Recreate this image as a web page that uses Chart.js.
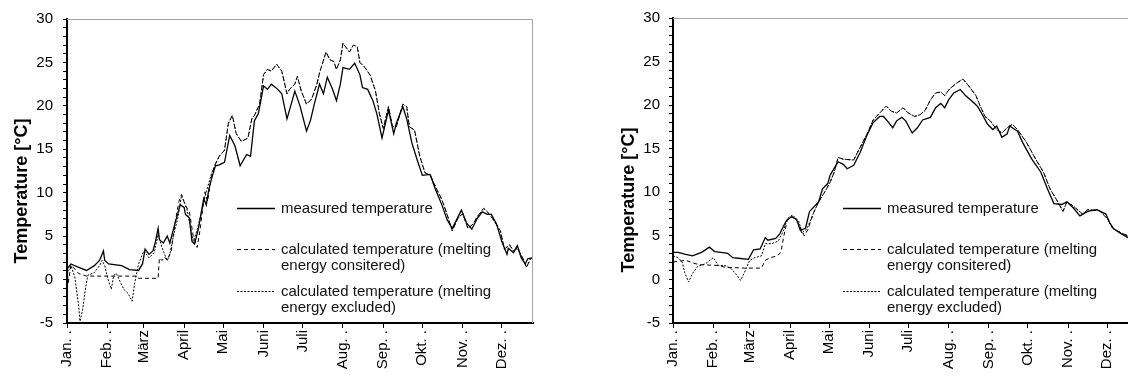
<!DOCTYPE html>
<html>
<head>
<meta charset="utf-8">
<script src="https://cdn.jsdelivr.net/npm/chart.js@4.4.1/dist/chart.umd.min.js"></script>
<style>
  html, body { margin: 0; padding: 0; background: #fff; }
  #wrap { width: 1128px; height: 378px; display: flex; }
  canvas { display: block; }
</style>
</head>
<body>
<div id="wrap">
  <canvas id="c1" width="564" height="378"></canvas>
  <canvas id="c2" width="564" height="378"></canvas>
</div>
<script>
// ---------- axis / legend text ----------
const monthStarts = [0, 31, 59, 90, 120, 151, 181, 212, 243, 273, 304, 334];
const monthLabels = ['Jan. .', 'Feb. .', 'März', 'April', 'Mai', 'Juni', 'Juli', 'Aug. .', 'Sep. .', 'Okt. .', 'Nov. .', 'Dez. .'];
const yTitle = 'Temperature [°C]';
const legendMeasured = ['measured temperature'];
const legendConsidered = ['calculated temperature (melting', 'energy consitered)'];
const legendExcluded = ['calculated temperature (melting', 'energy excluded)'];

// ---------- left panel data: [day of year, °C] ----------
const leftMeasured = [
  [0,1.2],[3,1.8],[9,1.4],[15,1.05],[21,1.6],[25,2.2],[28,3.3],[29,2.2],[32,1.8],[42,1.6],[48,1.15],[55,1.05],
  [58,1.8],[60,3.5],[63,2.9],[66,3.3],[68,4.4],[70,5.9],[71,4.6],[74,4.2],[77,5.0],[79,4.2],[83,6.5],[87,8.6],
  [90,8.3],[91,7.5],[94,7.1],[96,4.4],[98,4.1],[101,5.9],[105,9.3],[107,8.6],[109,10.4],[111,11.6],[114,13.1],
  [117,13.2],[121,13.5],[125,16.6],[129,15.4],[133,13.1],[138,14.4],[141,14.2],[144,18.3],[147,19.1],[151,22.3],
  [154,21.9],[157,22.5],[162,21.9],[165,21.4],[169,18.5],[173,20.6],[175,21.7],[179,20.0],[184,17.1],[187,18.3],
  [190,20.2],[194,22.5],[197,21.4],[200,23.3],[204,21.9],[207,20.6],[210,22.5],[212,24.4],[217,24.2],[221,24.9],
  [225,23.6],[227,22.1],[231,21.9],[235,20.6],[238,19.1],[242,16.3],[247,19.5],[251,16.8],[253,18.0],[258,19.9],
  [261,18.5],[265,15.7],[269,13.8],[273,12.0],[279,12.1],[283,10.4],[288,8.6],[292,6.9],[296,5.9],[298,6.5],
  [303,8.0],[307,6.5],[311,5.8],[315,7.0],[319,7.8],[323,7.5],[326,7.5],[330,6.4],[334,4.4],[338,2.9],[339,3.6],
  [343,3.1],[346,3.9],[349,2.5],[352,1.8],[354,2.4],[357,2.5]
];
const leftConsideredEarly = [
  [0,1.2],[1,-0.4],[3,1.7],[9,0.7],[15,0.4],[30,0.4],[54,0.4],[55,0.15],[70,0.15],[71,2.5],[73,2.2],[75,2.6],
  [77,2.2],[80,3.3],[83,6.5],[86,9.0],[88,9.8],[91,8.5],[94,7.8],[97,5.0],[100,3.7],[102,5.5],[106,10.1],
  [108,9.0],[111,12.0],[114,13.3]
];
const leftExcludedEarly = [
  [0,0.6],[3,1.6],[6,0.3],[9,-3.1],[10,-4.8],[12,-3.5],[14,-1.2],[16,0.5],[21,0.8],[25,1.6],[27,2.2],[29,1.6],
  [31,0.3],[34,-1.1],[36,0.5],[38,0.7],[41,-0.3],[44,-1.2],[47,-1.6],[50,-2.5],[52,-0.4],[55,1.8],[59,3.3],
  [63,2.5],[67,3.1],[70,5.2],[73,3.7],[75,2.9],[77,2.2],[79,2.9],[82,5.2],[85,7.0],[88,9.7],[92,8.2],[95,5.9],
  [97,4.4],[100,5.7],[105,8.9],[107,10.1],[111,12.2],[114,13.3]
];
const leftCalculatedLate = [
  [117,14.2],[121,14.9],[124,18.0],[127,18.9],[130,16.8],[134,15.9],[139,16.3],[142,18.5],[144,18.9],[148,20.2],
  [151,23.6],[154,24.2],[157,24.0],[161,24.8],[165,24.0],[169,21.4],[171,21.9],[175,22.5],[177,23.4],[180,21.7],
  [184,20.2],[188,20.8],[192,22.5],[194,23.8],[199,26.2],[202,25.3],[205,25.1],[207,24.2],[210,25.3],[212,27.2],
  [215,26.6],[217,26.2],[220,27.0],[223,26.8],[225,25.0],[229,24.4],[233,23.5],[237,21.7],[240,19.1],[243,17.4],
  [247,19.9],[250,17.6],[253,17.6],[258,20.2],[261,19.9],[263,17.6],[267,17.2],[271,14.2],[275,12.3],[279,12.0],
  [284,10.4],[288,9.2],[292,7.5],[296,5.6],[300,7.0],[304,7.6],[308,5.9],[312,6.4],[315,7.2],[320,8.2],[323,7.8],
  [327,7.0],[333,5.6],[336,3.5],[340,4.0],[343,3.3],[346,3.6],[350,2.5],[353,1.4],[356,2.4],[358,2.5]
];

// ---------- right panel data: [day of year, °C] ----------
const rightMeasured = [
  [0,3.1],[4,3.1],[9,2.9],[15,2.7],[22,3.1],[28,3.7],[32,3.2],[37,3.1],[42,3.0],[46,2.5],[52,2.4],[58,2.3],
  [62,3.4],[67,3.5],[71,4.8],[73,4.5],[79,4.7],[82,5.2],[87,6.7],[91,7.2],[95,6.9],[98,5.6],[102,5.9],[105,7.8],
  [112,8.9],[115,10.4],[119,11.0],[121,12.0],[127,13.5],[131,13.2],[134,12.7],[139,13.1],[144,14.6],[149,16.5],
  [154,18.0],[159,18.7],[162,18.7],[166,18.0],[169,17.4],[172,18.2],[176,18.6],[179,18.2],[184,16.8],[188,17.4],
  [192,18.3],[198,18.6],[202,19.7],[206,20.2],[209,19.7],[212,20.6],[216,21.4],[221,21.8],[225,21.1],[229,20.6],
  [234,19.9],[238,18.9],[242,17.8],[246,17.2],[249,17.6],[253,16.3],[257,16.7],[259,17.6],[265,17.0],[269,15.7],
  [276,13.8],[283,12.3],[288,10.4],[293,8.7],[299,8.6],[303,8.9],[308,8.2],[313,7.3],[319,7.8],[326,8.0],
  [333,7.5],[336,6.5],[339,5.8],[344,5.3],[350,4.8]
];
const rightConsideredEarly = [
  [0,2.0],[5,2.1],[10,2.2],[15,1.9],[20,1.7],[35,1.6],[40,1.4],[55,1.3],[68,1.3],[71,2.2],[75,2.5],[80,2.7],
  [83,3.1],[85,4.8],[88,6.9],[92,7.2],[96,6.6],[101,5.0],[104,5.8],[108,7.6],[111,8.6],[117,10.1]
];
const rightExcludedEarly = [
  [0,2.7],[4,2.5],[7,2.0],[9,0.8],[12,-0.3],[15,0.7],[19,1.5],[25,1.8],[31,2.5],[35,1.6],[40,1.6],[45,1.2],
  [49,0.5],[52,-0.1],[55,0.8],[59,2.2],[63,2.5],[68,2.7],[71,4.1],[76,4.1],[81,4.4],[85,5.6],[88,7.0],[92,7.4],
  [97,6.6],[99,5.3],[103,5.8],[108,7.6],[113,9.2],[117,10.1]
];
const rightCalculatedLate = [
  [121,11.2],[124,12.3],[127,14.0],[131,13.8],[139,13.7],[142,14.6],[149,16.6],[154,18.3],[159,19.1],[164,19.9],
  [168,19.3],[172,19.1],[177,19.7],[181,19.1],[186,18.7],[190,18.9],[194,19.4],[198,20.6],[202,21.4],[206,21.5],
  [209,21.1],[213,21.9],[218,22.5],[223,23.0],[227,22.3],[233,21.1],[236,20.0],[240,18.7],[244,18.2],[249,17.2],
  [253,16.8],[257,17.4],[261,17.8],[265,17.2],[272,15.7],[279,13.8],[285,12.3],[290,10.4],[296,8.9],[300,7.8],
  [303,8.9],[308,8.4],[315,7.5],[319,8.0],[328,7.9],[334,7.0],[338,5.9],[344,5.4],[350,5.0]
];

// ---------- helpers ----------
const FONT = '"Liberation Sans", Arial, Helvetica, sans-serif';
const toXY = arr => arr.map(p => ({ x: p[0], y: p[1] }));

const frame = {
  id: 'frame',
  afterDraw(chart, args, opts) {
    const { ctx, chartArea: a } = chart;
    ctx.save();
    ctx.strokeStyle = '#a6a6a6';
    ctx.lineWidth = 1;
    ctx.beginPath();
    ctx.moveTo(a.left, a.top + 0.5);
    ctx.lineTo(a.right, a.top + 0.5);
    if (opts.right) {
      ctx.moveTo(a.right - 0.5, a.top);
      ctx.lineTo(a.right - 0.5, a.bottom);
    }
    ctx.stroke();
    ctx.restore();
  }
};

const yTitlePlugin = {
  id: 'yTitleP',
  afterDraw(chart, args, opts) {
    const { ctx } = chart;
    ctx.save();
    ctx.translate(opts.x, opts.y);
    ctx.rotate(-Math.PI / 2);
    ctx.font = 'bold 18px ' + FONT;
    ctx.fillStyle = '#000';
    ctx.textAlign = 'center';
    ctx.textBaseline = 'middle';
    ctx.fillText(yTitle, 0, 0);
    ctx.restore();
  }
};

const legendPlugin = {
  id: 'legendP',
  afterDraw(chart) {
    const { ctx, chartArea: a } = chart;
    const rowsY = [208, 249, 291];
    const x0 = a.left + 170, x1 = a.left + 208, tx = a.left + 214;
    ctx.save();
    chart.data.datasets.forEach((ds, i) => {
      const y = rowsY[i];
      ctx.strokeStyle = ds.borderColor;
      ctx.lineWidth = ds.borderWidth;
      ctx.setLineDash(ds.borderDash || []);
      ctx.beginPath();
      ctx.moveTo(x0, y + 0.5);
      ctx.lineTo(x1, y + 0.5);
      ctx.stroke();
      ctx.setLineDash([]);
      ctx.font = '15px ' + FONT;
      ctx.fillStyle = '#111';
      ctx.textAlign = 'left';
      ctx.textBaseline = 'middle';
      ds.legendLines.forEach((t, k) => ctx.fillText(t, tx, y + 1 + k * 16));
    });
    ctx.restore();
  }
};

function makeChart(id, measured, considered, excluded, xMax, yAxisWidth, padRight, showRightBorder, titleX, titleY, tickPad) {
  return new Chart(document.getElementById(id), {
    type: 'line',
    data: {
      datasets: [
        { label: legendMeasured.join(' '), legendLines: legendMeasured, data: toXY(measured),
          borderColor: '#000', borderWidth: 1.3, borderDash: [], pointRadius: 0, tension: 0, order: 1 },
        { label: legendConsidered.join(' '), legendLines: legendConsidered, data: toXY(considered),
          borderColor: '#000', borderWidth: 1, borderDash: [4, 3], pointRadius: 0, tension: 0, order: 2 },
        { label: legendExcluded.join(' '), legendLines: legendExcluded, data: toXY(excluded),
          borderColor: '#000', borderWidth: 1, borderDash: [2, 1.5], pointRadius: 0, tension: 0, order: 3 }
      ]
    },
    options: {
      responsive: false,
      animation: false,
      devicePixelRatio: 1,
      layout: { padding: { left: 0, right: padRight, top: 13, bottom: 0 } },
      plugins: {
        legend: { display: false },
        tooltip: { enabled: false },
        frame: { right: showRightBorder },
        yTitleP: { x: titleX, y: titleY }
      },
      scales: {
        x: {
          type: 'linear', min: 0, max: xMax,
          afterBuildTicks: s => { s.ticks = monthStarts.map(v => ({ value: v })); },
          afterFit: s => { s.height = 55; },
          ticks: {
            autoSkip: false, minRotation: 90, maxRotation: 90, padding: 2,
            font: { family: FONT, size: 15 }, color: '#000',
            callback: v => monthLabels[monthStarts.indexOf(v)]
          },
          grid: { drawOnChartArea: false, drawTicks: true, tickLength: 5, color: '#000', lineWidth: 1 },
          border: { color: '#000', width: 2 }
        },
        y: {
          min: -5, max: 30,
          afterFit: s => { s.width = yAxisWidth; },
          ticks: {
            stepSize: 1, autoSkip: false, padding: tickPad,
            font: { family: FONT, size: 15 }, color: '#000',
            callback: v => (v % 5 === 0 ? String(v) : '')
          },
          grid: { drawOnChartArea: false, drawTicks: true, tickLength: 4, color: '#000', lineWidth: 1 },
          border: { color: '#000', width: 2 }
        }
      }
    },
    plugins: [frame, yTitlePlugin, legendPlugin]
  });
}

makeChart('c1', leftMeasured, leftConsideredEarly.concat(leftCalculatedLate), leftExcludedEarly.concat(leftCalculatedLate),
  358, 67, 31, true, 22, 191, 10);
makeChart('c2', rightMeasured, rightConsideredEarly.concat(rightCalculatedLate), rightExcludedEarly.concat(rightCalculatedLate),
  350, 109, 0, false, 65, 200, 9);
</script>
</body>
</html>
